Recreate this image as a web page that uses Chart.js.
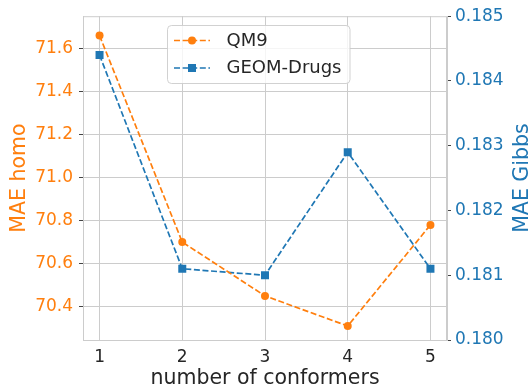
<!DOCTYPE html>
<html>
<head>
<meta charset="utf-8">
<script src="https://cdn.jsdelivr.net/npm/chart.js@4"></script>
<style>
  html, body { margin: 0; padding: 0; background: #ffffff; }
  canvas { display: block; }
</style>
</head>
<body>
<canvas id="c" width="529" height="389"></canvas>
<script>
// ---- data ----
const conformers = [1, 2, 3, 4, 5];
const qm9Homo = [71.66, 70.70, 70.45, 70.31, 70.78];
const geomGibbs = [0.1844, 0.1811, 0.1810, 0.1829, 0.1811];
const homoTicks = [70.4, 70.6, 70.8, 71.0, 71.2, 71.4, 71.6];
const gibbsTicks = [0.180, 0.181, 0.182, 0.183, 0.184, 0.185];
const seriesLabels = ['QM9', 'GEOM-Drugs'];
const xTitle = 'number of conformers';
const leftTitle = 'MAE homo';
const rightTitle = 'MAE Gibbs';

const ORANGE = '#ff7f0e';
const BLUE = '#1f77b4';
const TEXT = '#262626';
const GRID = '#cccccc';
const FONT = "'DejaVu Sans', sans-serif";

const ds = (label, xs, ys, color, style, radius, axis) => ({
  label,
  data: xs.map((x, i) => ({ x, y: ys[i] })),
  yAxisID: axis,
  borderColor: color,
  backgroundColor: color,
  pointBackgroundColor: color,
  pointBorderColor: color,
  pointBorderWidth: 0,
  pointStyle: style,
  pointRadius: radius,
  borderWidth: 1.7,
  borderDash: [6, 2.6],
  tension: 0,
  fill: false
});

const framePlugin = {
  id: 'frame',
  beforeDatasetsDraw(chart) {
    const { ctx, chartArea: a } = chart;
    ctx.save();
    ctx.strokeStyle = GRID;
    ctx.lineWidth = 1;
    ctx.strokeRect(a.left + 0.5, a.top + 0.5, a.right - a.left - 1, a.bottom - a.top);
    ctx.restore();
  },
  afterDraw(chart) {
    const { ctx, chartArea: a } = chart;
    const cy = (a.top + a.bottom) / 2;
    ctx.save();
    ctx.font = "20.5px " + FONT;
    ctx.textAlign = 'center';
    ctx.textBaseline = 'alphabetic';
    // left title
    ctx.save();
    ctx.translate(25, cy);
    ctx.rotate(-Math.PI / 2);
    ctx.fillStyle = ORANGE;
    ctx.fillText(leftTitle, 0, 0);
    ctx.restore();
    // right title
    ctx.save();
    ctx.translate(528, cy);
    ctx.rotate(-Math.PI / 2);
    ctx.fillStyle = BLUE;
    ctx.fillText(rightTitle, 0, 0);
    ctx.restore();

    // legend
    const bx = 167.5, by = 25.5, bw = 182.5, bh = 58;
    ctx.beginPath();
    ctx.roundRect(bx, by, bw, bh, 4);
    ctx.fillStyle = 'rgba(255,255,255,0.8)';
    ctx.fill();
    ctx.strokeStyle = 'rgba(204,204,204,0.9)';
    ctx.lineWidth = 1;
    ctx.stroke();
    const rows = [40.5, 68];
    chart.data.datasets.forEach((d, i) => {
      const y = rows[i];
      ctx.save();
      ctx.strokeStyle = d.borderColor;
      ctx.lineWidth = d.borderWidth;
      ctx.setLineDash(d.borderDash);
      ctx.beginPath();
      ctx.moveTo(174, y);
      ctx.lineTo(210, y);
      ctx.stroke();
      ctx.setLineDash([]);
      ctx.fillStyle = d.pointBackgroundColor;
      if (d.pointStyle === 'rect') {
        ctx.fillRect(192 - 4, y - 4, 8, 8);
      } else {
        ctx.beginPath();
        ctx.arc(192, y, 4, 0, Math.PI * 2);
        ctx.fill();
      }
      ctx.restore();
      ctx.fillStyle = TEXT;
      ctx.font = "18px " + FONT;
      ctx.textAlign = 'left';
      ctx.textBaseline = 'middle';
      ctx.fillText(d.label, 226.5, y + 0.5);
    });
    ctx.restore();
  }
};

new Chart(document.getElementById('c'), {
  type: 'line',
  data: {
    datasets: [
      ds(seriesLabels[0], conformers, qm9Homo, ORANGE, 'circle', 4, 'y'),
      ds(seriesLabels[1], conformers, geomGibbs, BLUE, 'rect', 5.66, 'y1')
    ]
  },
  options: {
    responsive: false,
    animation: false,
    layout: { padding: { top: 15, left: 0, right: 0, bottom: 0 } },
    plugins: { legend: { display: false }, tooltip: { enabled: false } },
    scales: {
      x: {
        type: 'linear',
        position: 'bottom',
        min: 0.8,
        max: 5.2,
        afterBuildTicks: s => { s.ticks = conformers.map(v => ({ value: v })); },
        afterFit: s => { s.height = 49; },
        grid: { color: GRID, lineWidth: 1, drawTicks: false },
        border: { display: true, color: GRID, width: 1 },
        ticks: { color: TEXT, padding: 7, font: { family: FONT, size: 17 }, callback: v => String(v) },
        title: { display: true, text: xTitle, color: TEXT, padding: 0, font: { family: FONT, size: 20.5, lineHeight: 1 } }
      },
      y: {
        type: 'linear',
        position: 'left',
        min: 70.245,
        max: 71.75,
        afterBuildTicks: s => { s.ticks = homoTicks.map(v => ({ value: v })); },
        afterFit: s => { s.width = 83; },
        grid: { color: GRID, lineWidth: 1, drawTicks: true, tickLength: 4, tickColor: '#444444', tickWidth: 1 },
        border: { display: true, color: GRID, width: 1 },
        ticks: { color: ORANGE, padding: 6, font: { family: FONT, size: 17 }, callback: v => v.toFixed(1) }
      },
      y1: {
        type: 'linear',
        position: 'right',
        min: 0.180,
        max: 0.185,
        afterBuildTicks: s => { s.ticks = gibbsTicks.map(v => ({ value: v })); },
        afterFit: s => { s.width = 82; },
        grid: { drawOnChartArea: false, drawTicks: true, tickLength: 4, tickColor: '#444444', tickWidth: 1, color: GRID },
        border: { display: true, color: GRID, width: 1 },
        ticks: { color: BLUE, padding: 4, font: { family: FONT, size: 17 }, callback: v => v.toFixed(3) }
      }
    }
  },
  plugins: [framePlugin]
});
</script>
</body>
</html>
